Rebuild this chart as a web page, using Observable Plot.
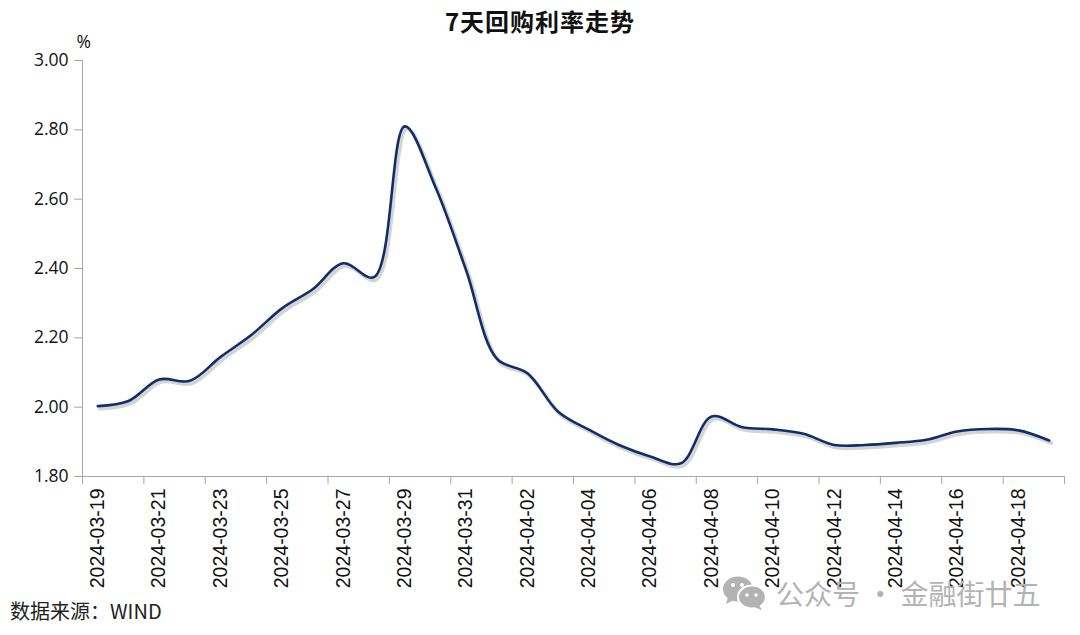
<!DOCTYPE html>
<html>
<head>
<meta charset="utf-8">
<script src="https://cdn.jsdelivr.net/npm/d3@7"></script>
<script src="https://cdn.jsdelivr.net/npm/@observablehq/plot@0.6"></script>
<style>
  html, body { margin: 0; padding: 0; background: #fff; }
  #wrap { position: relative; width: 1080px; height: 635px; overflow: hidden; }
  #title { position: absolute; left: 0; top: 3px; width: 1080px; text-align: center;
    font: bold 24px "Noto Sans CJK SC", sans-serif; color: #111; letter-spacing: 1px; }
  #chart { position: absolute; left: 0; top: 0; }
  #caption { position: absolute; left: 10px; top: 596px; font: 20px "Noto Sans CJK SC", sans-serif; color: #222; }
  #wm { position: absolute; left: 722px; top: 573px; display: flex; align-items: center;
    font: 28px "Noto Sans CJK SC", sans-serif; color: #b3b3b3; }
</style>
</head>
<body>
<div id="wrap">
  <div id="chart"></div>
  <div id="title">7天回购利率走势</div>
  <div id="caption">数据来源：WIND</div>
  <div id="wm">
    <svg width="46" height="36" viewBox="0 0 46 36">
      <ellipse cx="16" cy="14" rx="15" ry="12.5" fill="#b3b3b3"/>
      <path d="M6 22 L4 29 L12 25 Z" fill="#b3b3b3"/>
      <ellipse cx="30" cy="22" rx="14" ry="11.5" fill="#b3b3b3" stroke="#fff" stroke-width="2"/>
      <path d="M37 30 L40 35 L32 32 Z" fill="#b3b3b3"/>
      <circle cx="11" cy="10" r="2" fill="#fff"/>
      <circle cx="20" cy="10" r="2" fill="#fff"/>
      <circle cx="25" cy="20" r="1.8" fill="#fff"/>
      <circle cx="34" cy="20" r="1.8" fill="#fff"/>
    </svg>
    <span style="margin-left:8px">公众号 · 金融街廿五</span>
  </div>
</div>
<script>
const dates = [
  "2024-03-19","2024-03-20","2024-03-21","2024-03-22","2024-03-23","2024-03-24","2024-03-25","2024-03-26",
  "2024-03-27","2024-03-28","2024-03-29","2024-03-30","2024-03-31","2024-04-01","2024-04-02","2024-04-03",
  "2024-04-04","2024-04-05","2024-04-06","2024-04-07","2024-04-08","2024-04-09","2024-04-10","2024-04-11",
  "2024-04-12","2024-04-13","2024-04-14","2024-04-15","2024-04-16","2024-04-17","2024-04-18","2024-04-19"
];
const rates = [
  2.003, 2.018, 2.080, 2.076, 2.145, 2.208, 2.285, 2.340,
  2.415, 2.375, 2.810, 2.635, 2.395, 2.140, 2.098, 1.987,
  1.935, 1.890, 1.858, 1.838, 1.973, 1.942, 1.936, 1.923,
  1.891, 1.891, 1.897, 1.906, 1.930, 1.937, 1.933, 1.904
];
const yTicks = [1.8, 2.0, 2.2, 2.4, 2.6, 2.8, 3.0];
const yUnit = "%";

const data = dates.map((d, i) => ({i, date: d, rate: rates[i]}));
const labelIdx = d3.range(0, dates.length, 2);
const boundaryTicks = d3.range(-0.5, dates.length + 0.5, 2);

const chart = Plot.plot({
  width: 1080,
  height: 600,
  marginTop: 60,
  marginBottom: 124,
  marginLeft: 82,
  marginRight: 16,
  x: {domain: [-0.5, dates.length - 0.5]},
  y: {domain: [1.8, 3.0]},
  style: {background: "#fff", color: "#111"},
  marks: [
    Plot.axisY({ticks: yTicks, tickFormat: d => d.toFixed(2), tickSize: 8, tickPadding: 6,
      stroke: "#a6a6a6", fill: "#111", fontSize: 17.5, fontFamily: "Open Sans", label: null}),
    Plot.axisX({ticks: boundaryTicks, tickSize: 8, tickFormat: () => "", stroke: "#a6a6a6", label: null}),
    Plot.axisX({ticks: labelIdx, tickSize: 0, tickPadding: 12, tickRotate: -90,
      tickFormat: i => dates[i], fontSize: 19.5, fontFamily: "Liberation Sans", fill: "#111", label: null}),
    Plot.ruleX([-0.5], {y1: 1.8, y2: 3.0, stroke: "#a6a6a6"}),
    Plot.ruleY([1.8], {stroke: "#a6a6a6"}),
    Plot.text([yUnit], {frameAnchor: "top-left", dx: -6, dy: -25, fill: "#111", fontSize: 17.5, fontFamily: "Open Sans"}),
    Plot.line(data, {x: "i", y: "rate", curve: "catmull-rom", stroke: "#a0a0a0",
      strokeOpacity: 0.45, strokeWidth: 4, dx: 2, dy: 2.5}),
    Plot.line(data, {x: "i", y: "rate", curve: "catmull-rom", stroke: "#112d6a", strokeWidth: 2.6})
  ]
});
document.getElementById("chart").appendChild(chart);
</script>
</body>
</html>
